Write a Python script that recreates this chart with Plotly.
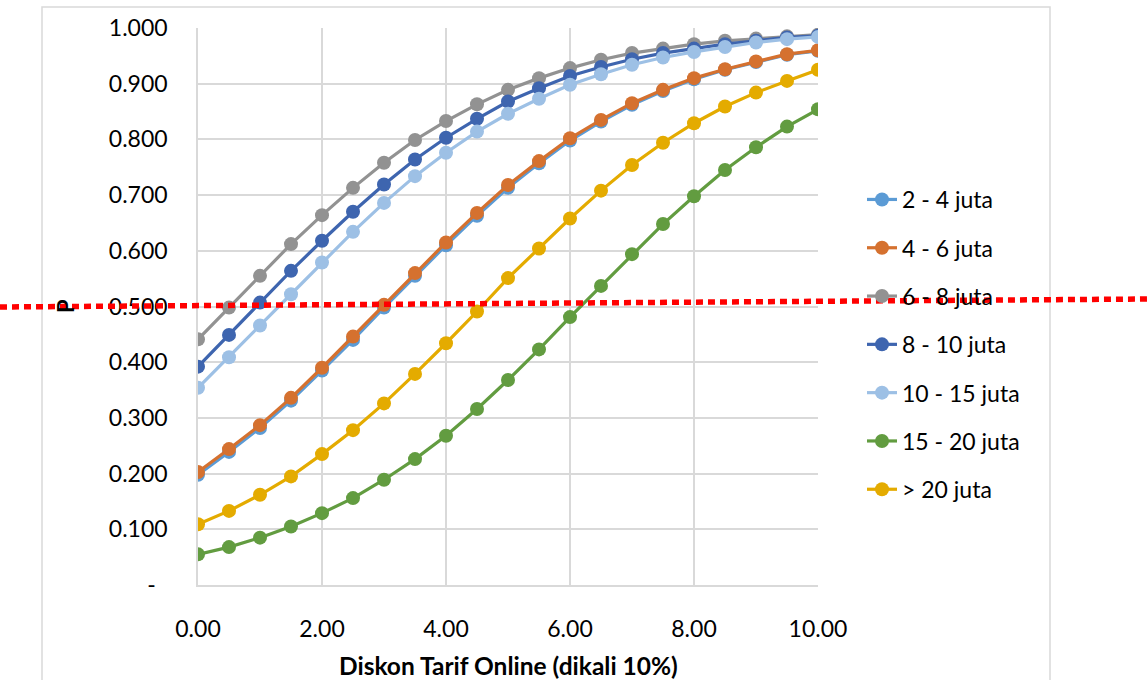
import plotly.graph_objects as go

x_vals = [0.0, 0.5, 1.0, 1.5, 2.0, 2.5, 3.0, 3.5, 4.0, 4.5, 5.0,
          5.5, 6.0, 6.5, 7.0, 7.5, 8.0, 8.5, 9.0, 9.5, 10.0]

s_2_4 = [0.198, 0.239, 0.282, 0.331, 0.385, 0.440, 0.498, 0.555, 0.610, 0.663, 0.713,
         0.757, 0.798, 0.832, 0.862, 0.887, 0.908, 0.925, 0.939, 0.952, 0.959]
s_4_6 = [0.203, 0.244, 0.287, 0.336, 0.390, 0.446, 0.503, 0.560, 0.615, 0.668, 0.718,
         0.761, 0.802, 0.835, 0.865, 0.889, 0.910, 0.926, 0.940, 0.953, 0.960]
s_6_8 = [0.441, 0.498, 0.555, 0.612, 0.664, 0.713, 0.758, 0.799, 0.833, 0.863, 0.889,
         0.910, 0.928, 0.943, 0.955, 0.963, 0.971, 0.977, 0.981, 0.985, 0.988]
s_8_10 = [0.392, 0.449, 0.507, 0.564, 0.618, 0.670, 0.719, 0.764, 0.803, 0.837, 0.868,
          0.892, 0.914, 0.930, 0.944, 0.955, 0.963, 0.971, 0.977, 0.983, 0.986]
s_10_15 = [0.354, 0.409, 0.466, 0.522, 0.579, 0.634, 0.686, 0.734, 0.776, 0.814, 0.846,
           0.873, 0.898, 0.917, 0.934, 0.947, 0.957, 0.966, 0.974, 0.980, 0.984]
s_15_20 = [0.055, 0.068, 0.085, 0.105, 0.129, 0.156, 0.189, 0.226, 0.268, 0.316, 0.368,
           0.423, 0.481, 0.537, 0.594, 0.648, 0.698, 0.745, 0.786, 0.823, 0.854]
s_gt_20 = [0.109, 0.133, 0.162, 0.195, 0.235, 0.278, 0.326, 0.379, 0.434, 0.491, 0.551,
           0.604, 0.658, 0.708, 0.754, 0.794, 0.829, 0.859, 0.884, 0.905, 0.925]

series_names = ["2 - 4 juta", "4 - 6 juta", "6 - 8 juta", "8 - 10 juta",
                "10 - 15 juta", "15 - 20 juta", "> 20 juta"]
series_values = [s_2_4, s_4_6, s_6_8, s_8_10, s_10_15, s_15_20, s_gt_20]
series_colors = ["#5B9BD5", "#D5712F", "#929292", "#3E65AF",
                 "#9DC0E5", "#629C40", "#E4AB00"]

y_tickvals = [0.0, 0.1, 0.2, 0.3, 0.4, 0.5, 0.6, 0.7, 0.8, 0.9, 1.0]
y_ticktext = ["-\u00a0\u00a0", "0.100", "0.200", "0.300", "0.400", "0.500",
              "0.600", "0.700", "0.800", "0.900", "1.000"]
x_tickvals = [0, 2, 4, 6, 8, 10]
x_ticktext = ["0.00", "2.00", "4.00", "6.00", "8.00", "10.00"]

FONT = "Lato, 'Open Sans', sans-serif"

fig = go.Figure()
for name, vals, col in zip(series_names, series_values, series_colors):
    fig.add_trace(go.Scatter(
        x=x_vals, y=vals, name=name, mode="lines+markers",
        legendgroup=name,
        line=dict(color=col, width=3.2),
        marker=dict(color=col, size=14),
    ))

W, H = 1147, 680
L, R, T, B = 198, 329, 28, 95
pw, ph = W - L - R, H - T - B

def px_x(p):
    return (p - L) / pw

def px_y(p):
    return (H - B - p) / ph

fig.update_layout(
    width=W, height=H,
    margin=dict(l=L, r=R, t=T, b=B, autoexpand=False),
    paper_bgcolor="white", plot_bgcolor="white",
    font=dict(family=FONT, size=23, color="black"),
    showlegend=True,
    legend=dict(
        x=px_x(862), xanchor="left",
        y=px_y(178), yanchor="top",
        font=dict(family=FONT, size=23, color="black"),
        bgcolor="rgba(0,0,0,0)",
        tracegroupgap=15.4,
        itemwidth=30,
    ),
    xaxis=dict(
        range=[0, 10], tickvals=x_tickvals, ticktext=x_ticktext,
        showgrid=True, gridcolor="#D9D9D9", gridwidth=1.5,
        showline=True, linecolor="#D9D9D9", linewidth=1.5,
        zeroline=False, ticks="", ticklabelstandoff=23,
        tickfont=dict(family=FONT, size=23, color="black"),
    ),
    yaxis=dict(
        range=[0, 1.0], tickvals=y_tickvals, ticktext=y_ticktext,
        showgrid=True, gridcolor="#D9D9D9", gridwidth=1.5,
        showline=True, linecolor="#D9D9D9", linewidth=1.5,
        zeroline=False, ticks="", ticklabelstandoff=24,
        tickfont=dict(family=FONT, size=23, color="black"),
    ),
    shapes=[
        dict(type="rect", xref="paper", yref="paper",
             x0=px_x(42), x1=px_x(1050), y0=px_y(720), y1=px_y(7),
             line=dict(color="#D9D9D9", width=1.5), fillcolor="rgba(0,0,0,0)",
             layer="below"),
        dict(type="line", xref="paper", yref="paper",
             x0=px_x(0), x1=px_x(1147), y0=px_y(307), y1=px_y(299),
             line=dict(color="#FF0000", width=5.5, dash="7px,5px"),
             layer="above"),
    ],
    annotations=[
        dict(text="<b>Diskon Tarif Online (dikali 10%)</b>", xref="paper", yref="paper",
             x=0.5, y=px_y(665), xanchor="center", yanchor="middle", showarrow=False,
             font=dict(family=FONT, size=24.5, color="black")),
        dict(text="<b>P</b>", xref="paper", yref="paper", textangle=-90,
             x=px_x(65), y=px_y(306), xanchor="center", yanchor="middle", showarrow=False,
             font=dict(family=FONT, size=22, color="black")),
    ],
)

fig.write_html("out.html")
